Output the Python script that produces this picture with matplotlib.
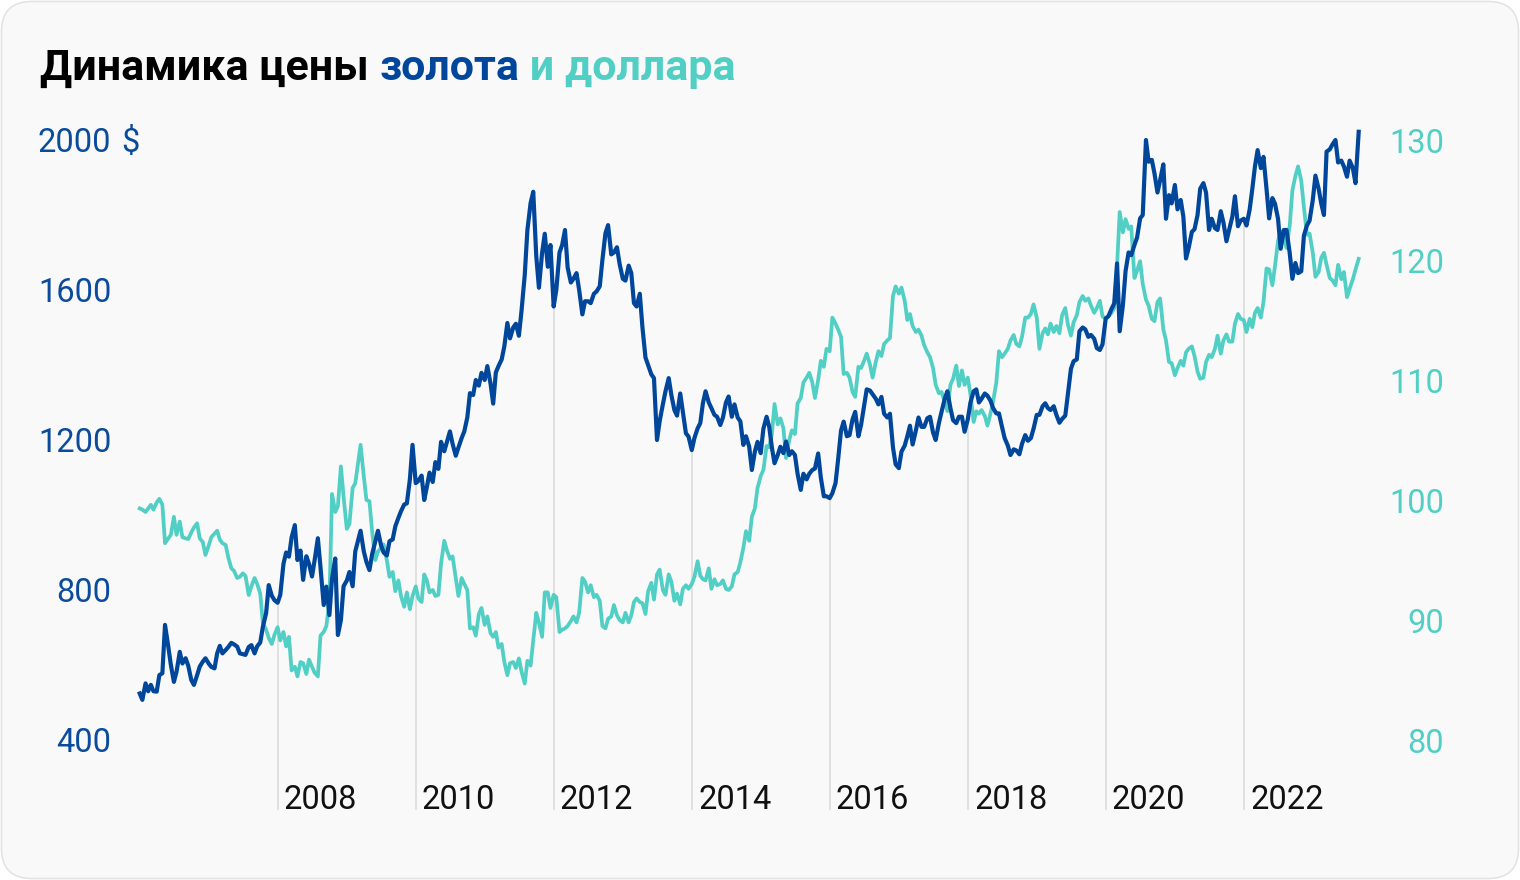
import matplotlib
matplotlib.use('Agg')
import matplotlib.pyplot as plt
import matplotlib.dates as mdates
import pandas as pd
from matplotlib.patches import FancyBboxPatch

# gold, USD per ounce, two points per month (1st and 15th), Jan 2006 .. Sep 2023
gold_2006 = [524, 507, 551, 530, 547, 530, 529, 573, 578, 707, 650, 600, 555, 582, 635, 604, 618, 598, 560, 547, 573, 596, 609, 618]
gold_2007 = [604, 595, 591, 631, 651, 631, 640, 648, 659, 655, 649, 631, 629, 627, 648, 653, 631, 650, 660, 702, 738, 813, 785, 773]
gold_2008 = [766, 787, 870, 900, 889, 940, 973, 880, 905, 827, 890, 870, 836, 880, 938, 860, 760, 809, 733, 830, 884, 680, 720, 810]
gold_2009 = [825, 848, 810, 903, 930, 958, 903, 875, 853, 895, 930, 958, 920, 900, 892, 930, 935, 970, 992, 1010, 1028, 1031, 1095, 1187]
gold_2010 = [1085, 1091, 1105, 1040, 1075, 1113, 1088, 1141, 1123, 1195, 1170, 1195, 1223, 1190, 1158, 1180, 1205, 1223, 1260, 1325, 1320, 1360, 1345, 1379]
gold_2011 = [1360, 1397, 1350, 1297, 1380, 1397, 1415, 1450, 1512, 1471, 1500, 1510, 1478, 1545, 1640, 1760, 1832, 1862, 1690, 1606, 1700, 1750, 1662, 1720]
gold_2012 = [1556, 1600, 1700, 1720, 1760, 1660, 1620, 1630, 1645, 1600, 1535, 1570, 1570, 1565, 1590, 1596, 1610, 1680, 1751, 1773, 1695, 1700, 1714, 1670]
gold_2013 = [1630, 1625, 1665, 1645, 1565, 1556, 1590, 1500, 1420, 1400, 1375, 1365, 1200, 1250, 1295, 1330, 1365, 1320, 1280, 1265, 1324, 1275, 1218, 1209]
gold_2014 = [1173, 1205, 1231, 1245, 1298, 1330, 1300, 1285, 1267, 1262, 1240, 1260, 1300, 1316, 1262, 1295, 1260, 1250, 1187, 1210, 1182, 1120, 1169, 1195]
gold_2015 = [1165, 1230, 1262, 1235, 1180, 1138, 1160, 1182, 1165, 1196, 1160, 1170, 1160, 1110, 1067, 1110, 1095, 1110, 1120, 1124, 1164, 1100, 1050, 1050]
gold_2016 = [1045, 1058, 1085, 1150, 1225, 1249, 1210, 1213, 1255, 1275, 1210, 1240, 1290, 1335, 1332, 1322, 1310, 1295, 1315, 1270, 1260, 1270, 1180, 1135]
gold_2017 = [1125, 1169, 1185, 1210, 1238, 1188, 1225, 1260, 1235, 1235, 1258, 1262, 1220, 1200, 1245, 1275, 1310, 1330, 1285, 1253, 1245, 1262, 1262, 1222]
gold_2018 = [1255, 1300, 1330, 1335, 1300, 1310, 1324, 1318, 1305, 1285, 1271, 1271, 1235, 1205, 1185, 1160, 1175, 1172, 1162, 1190, 1213, 1198, 1205, 1230]
gold_2019 = [1267, 1267, 1290, 1298, 1285, 1280, 1290, 1267, 1246, 1256, 1265, 1324, 1390, 1410, 1415, 1490, 1500, 1495, 1475, 1480, 1470, 1445, 1440, 1455]
gold_2020 = [1524, 1530, 1550, 1564, 1671, 1490, 1560, 1650, 1700, 1693, 1720, 1740, 1791, 1800, 2000, 1942, 1947, 1911, 1860, 1893, 1935, 1790, 1853, 1831]
gold_2021 = [1880, 1815, 1840, 1795, 1684, 1712, 1755, 1762, 1800, 1870, 1885, 1860, 1760, 1790, 1765, 1760, 1810, 1780, 1730, 1760, 1795, 1850, 1770, 1785]
gold_2022 = [1790, 1772, 1815, 1870, 1930, 1973, 1925, 1955, 1870, 1791, 1845, 1830, 1790, 1710, 1760, 1760, 1698, 1630, 1672, 1645, 1650, 1745, 1772, 1785]
gold_2023 = [1840, 1905, 1870, 1830, 1800, 1969, 1975, 1988, 2000, 1940, 1945, 1929, 1902, 1945, 1925, 1885, 2022]

# dollar index, same dates
usd_2006 = [99.3, 99.2, 99.0, 99.3, 99.6, 99.2, 99.8, 100.1, 99.6, 96.4, 96.8, 97.1, 98.6, 97.1, 98.2, 96.9, 96.8, 96.75, 97.3, 97.7, 98.06, 96.8, 96.5, 95.42]
usd_2007 = [96.2, 96.9, 97.2, 97.44, 96.7, 96.4, 96.25, 95.2, 94.31, 94.1, 93.5, 93.6, 93.89, 93.67, 92.08, 92.8, 93.5, 93.0, 92.2, 89.72, 89.2, 88.5, 88.0, 88.75]
usd_2008 = [89.4, 88.3, 89.0, 87.8, 88.6, 85.8, 86.1, 85.3, 86.5, 86.4, 85.5, 86.7, 86.1, 85.6, 85.3, 88.7, 89.0, 89.5, 91.5, 100.5, 99.0, 99.5, 102.8, 100.3]
usd_2009 = [97.6, 98.0, 101.0, 101.4, 103.0, 104.6, 102.0, 100.0, 99.9, 97.4, 95.0, 95.7, 96.0, 96.3, 95.0, 93.6, 94.0, 92.4, 93.3, 92.0, 91.1, 92.3, 90.9, 92.0]
usd_2010 = [92.8, 91.8, 91.5, 93.8, 93.3, 92.3, 92.5, 92.0, 92.1, 94.7, 96.6, 95.8, 95.1, 95.3, 93.5, 92.0, 93.5, 93.0, 92.5, 89.3, 89.4, 88.7, 90.5, 91.0]
usd_2011 = [89.6, 90.3, 88.9, 88.6, 89.0, 87.7, 88.0, 86.5, 85.4, 86.4, 86.5, 86.0, 86.8, 85.7, 84.7, 86.6, 86.2, 88.3, 90.6, 89.8, 88.6, 92.3, 92.3, 91.0]
usd_2012 = [92.1, 91.9, 89.0, 89.2, 89.3, 89.5, 89.9, 90.3, 89.8, 90.6, 93.5, 93.2, 92.3, 92.9, 91.9, 92.1, 91.6, 89.5, 89.3, 90.1, 90.3, 91.25, 90.4, 90.0]
usd_2013 = [89.8, 90.6, 89.8, 90.4, 91.5, 91.8, 91.5, 91.4, 90.5, 92.4, 93.1, 91.7, 93.8, 94.2, 92.5, 92.1, 93.8, 93.2, 91.6, 92.2, 91.3, 92.6, 92.9, 92.6]
usd_2014 = [93.0, 93.6, 94.9, 93.7, 93.4, 93.3, 94.3, 92.6, 93.4, 92.9, 93.0, 93.3, 92.6, 92.5, 92.8, 93.8, 94.0, 94.8, 96.0, 97.4, 96.6, 98.6, 99.3, 101.0]
usd_2015 = [102.0, 102.5, 104.5, 104.4, 105.5, 108.0, 106.3, 106.8, 106.0, 103.5, 105.0, 105.8, 105.5, 108.05, 108.5, 109.8, 110.2, 110.6, 109.8, 108.5, 110.0, 111.6, 111.1, 112.6]
usd_2016 = [112.4, 115.2, 114.7, 114.2, 113.6, 110.5, 110.6, 110.2, 109.0, 108.6, 111.1, 111.0, 111.6, 112.2, 111.3, 110.2, 111.5, 112.4, 112.0, 113.0, 113.3, 113.5, 117.0, 117.8]
usd_2017 = [117.2, 117.7, 116.6, 115.0, 115.5, 114.5, 114.0, 114.2, 113.7, 112.9, 112.3, 111.9, 111.0, 109.6, 108.9, 109.0, 108.2, 107.4, 109.6, 110.1, 111.2, 109.5, 110.8, 109.6]
usd_2018 = [110.2, 108.8, 106.5, 107.4, 107.2, 107.5, 107.0, 106.2, 107.2, 108.2, 109.8, 112.4, 111.9, 112.2, 112.6, 113.3, 113.75, 113.0, 112.8, 113.6, 115.2, 115.2, 115.5, 116.3]
usd_2019 = [115.2, 112.6, 113.9, 114.3, 113.8, 114.7, 114.0, 114.5, 113.9, 115.4, 116.0, 114.6, 113.7, 114.8, 115.4, 116.5, 117.0, 116.6, 116.8, 116.2, 115.6, 116.0, 116.6, 115.3]
usd_2020 = [115.1, 115.3, 115.6, 116.0, 119.5, 124.0, 122.3, 123.4, 122.6, 122.8, 118.5, 119.1, 119.9, 118.0, 116.7, 116.2, 115.1, 114.9, 116.5, 116.8, 114.2, 113.3, 111.5, 111.4]
usd_2021 = [110.4, 111.0, 111.6, 111.2, 112.3, 112.6, 112.8, 112.0, 110.7, 110.1, 110.2, 111.5, 112.1, 111.9, 112.6, 113.7, 112.2, 113.3, 113.8, 113.2, 113.2, 114.7, 115.5, 115.1]
usd_2022 = [115.0, 114.0, 115.1, 114.4, 115.6, 116.0, 115.2, 116.5, 119.3, 119.2, 117.9, 119.5, 121.6, 122.4, 121.9, 121.0, 122.9, 125.8, 127.0, 127.8, 126.6, 124.4, 122.1, 122.2]
usd_2023 = [120.6, 118.6, 119.0, 120.2, 120.6, 119.6, 118.5, 118.3, 117.9, 119.6, 118.4, 119.0, 116.9, 117.6, 118.4, 119.2, 120.1]

gold = (gold_2006 + gold_2007 + gold_2008 + gold_2009 + gold_2010 + gold_2011 + gold_2012 + gold_2013
        + gold_2014 + gold_2015 + gold_2016 + gold_2017 + gold_2018 + gold_2019 + gold_2020 + gold_2021
        + gold_2022 + gold_2023)
usd = (usd_2006 + usd_2007 + usd_2008 + usd_2009 + usd_2010 + usd_2011 + usd_2012 + usd_2013
       + usd_2014 + usd_2015 + usd_2016 + usd_2017 + usd_2018 + usd_2019 + usd_2020 + usd_2021
       + usd_2022 + usd_2023)

year_marks = [2008, 2010, 2012, 2014, 2016, 2018, 2020, 2022]
gold_ticks = [400, 800, 1200, 1600, 2000]
usd_ticks = [80, 90, 100, 110, 120, 130]

dates = pd.date_range('2006-01-01', periods=len(gold), freq='SMS')
gold_s = pd.Series(gold, index=dates)
xnum = mdates.date2num(dates.to_pydatetime())

GOLD = '#00479b'
GOLD_TXT = '#0b4b9c'
TEAL = '#52cfc4'

plt.rcParams['font.family'] = ['Roboto', 'DejaVu Sans']

fig = plt.figure(figsize=(15.2, 8.8), dpi=100)
fig.patch.set_facecolor('white')
panel = FancyBboxPatch((0.015, 0.015), 15.17, 8.77,
                       boxstyle='round,pad=0,rounding_size=0.3',
                       transform=fig.dpi_scale_trans,
                       facecolor='#f9f9f9', edgecolor='#e4e4e4', linewidth=1.2, zorder=0)
fig.patches.append(panel)

W, H = 1520, 880
ax = fig.add_axes([139.7 / W, 70 / H, 1219 / W, 690 / H])
ax2 = ax.twinx()
ax.set_zorder(3)
ax2.set_zorder(2)
ax.patch.set_visible(False)
ax2.patch.set_visible(False)

ax.set_xlim(xnum[0], xnum[-1])
ax.set_ylim(213.33, 2053.33)
ax2.set_ylim(74.167, 131.667)

# drop lines from the bottom up to the gold line
for y in year_marks:
    d = pd.Timestamp(f'{y}-01-01')
    dn = mdates.date2num(d.to_pydatetime())
    ax2.plot([dn, dn], [213.33, gold_s[d]], transform=ax.transData,
             color='#dedede', lw=1.3, zorder=1, solid_capstyle='butt')
    ax.annotate(str(y), xy=(dn, 0), xycoords=ax.get_xaxis_transform(),
                xytext=(4.5, 1), textcoords='offset points',
                ha='left', va='baseline', fontsize=23.5, color='#111111')

ax2.plot(xnum, usd, color=TEAL, lw=2.7, zorder=3, clip_on=False)
ax.plot(xnum, gold, color=GOLD, lw=3.0, zorder=4, clip_on=False)

for a in (ax, ax2):
    for s in a.spines.values():
        s.set_visible(False)
    a.set_xticks([])

ax.set_yticks(gold_ticks)
ax.set_yticklabels([str(v) for v in gold_ticks])
ax.tick_params(axis='y', length=0, pad=20.5, labelsize=23.5, labelcolor=GOLD_TXT)
ax.annotate('$', xy=(0, 2000), xycoords=('axes fraction', 'data'),
            xytext=(-13.5, 0), textcoords='offset points',
            ha='left', va='center_baseline', fontsize=23.5, color=GOLD_TXT)

ax2.set_yticks(usd_ticks)
ax2.set_yticklabels([str(v) for v in usd_ticks])
ax2.tick_params(axis='y', length=0, pad=61.5, labelsize=23.5, labelcolor=TEAL)
for lbl in ax2.get_yticklabels():
    lbl.set_horizontalalignment('right')

# title in three colours
parts = [('Динамика цены ', '#000000'), ('золота', GOLD), (' и доллара', TEAL)]
fig.canvas.draw()
r = fig.canvas.get_renderer()
x = 40
for txt, col in parts:
    t = fig.text(x / W, (H - 80) / H, txt, fontsize=31, fontweight='bold', color=col,
                 ha='left', va='baseline')
    x += t.get_window_extent(renderer=r).width

fig.savefig('out.png', dpi=100, facecolor='white')
